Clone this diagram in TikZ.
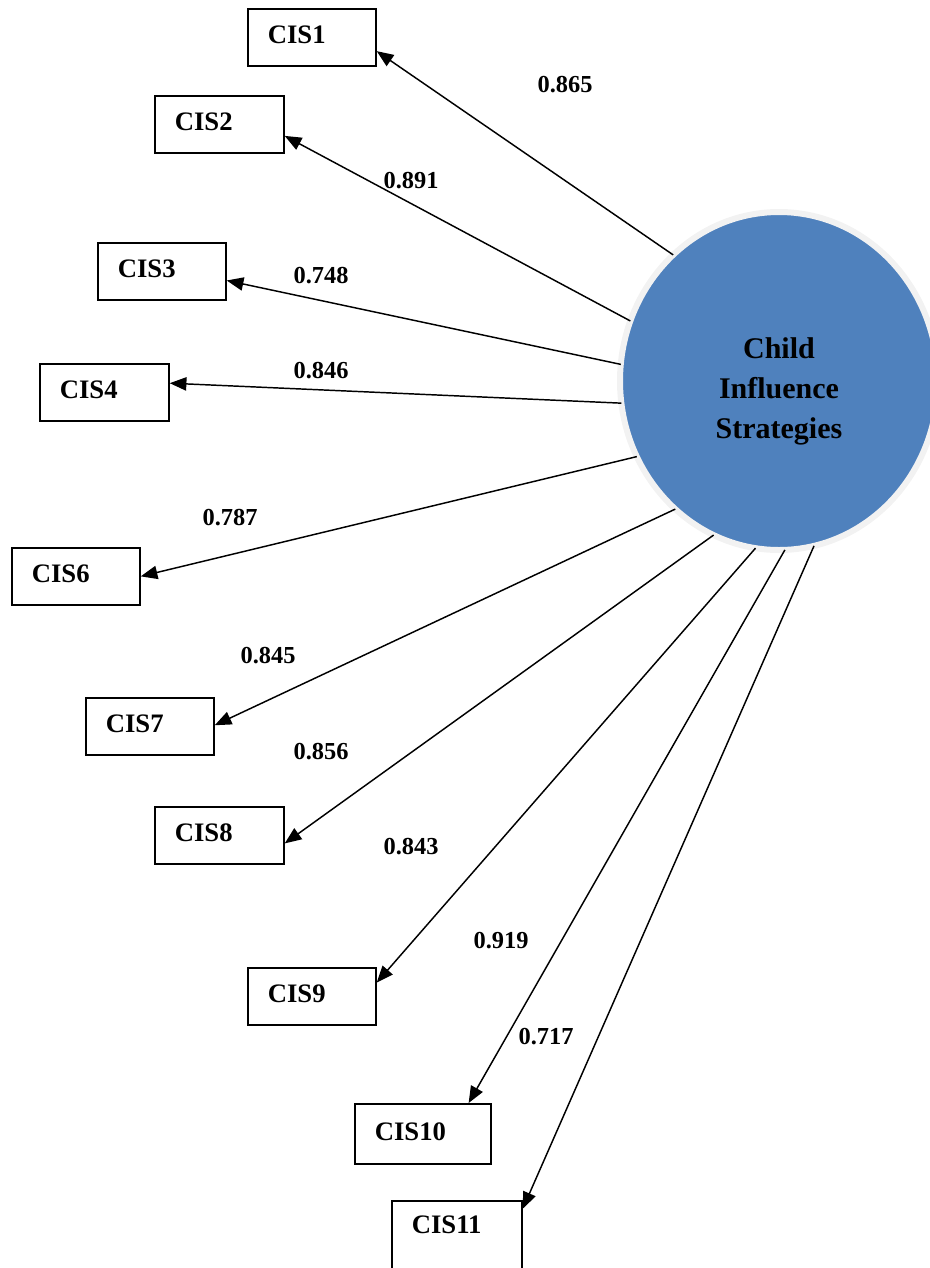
\documentclass[tikz,border=0pt]{standalone}
\usepackage{fontspec}
\setmainfont{Liberation Serif}
\usetikzlibrary{arrows.meta, shapes.geometric}
\definecolor{cisblue}{HTML}{4F81BD}
\definecolor{cisring}{HTML}{F2F2F2}

\begin{document}
\begin{tikzpicture}[x=0.75pt,y=-0.75pt,
  box/.style={draw, line width=1.3pt, anchor=north west, inner xsep=15pt, inner ysep=0pt,
    align=left, text depth=4pt, font=\fontsize{20}{24}\selectfont\bfseries},
  loading/.style={font=\fontsize{18.3}{22}\selectfont\bfseries},
  arr/.style={-{Triangle[length=12.5pt,width=10pt]}, line width=1.1pt}]
\useasboundingbox (0,0) rectangle (930,1268);

\node[ellipse, fill=cisblue, draw=cisring, line width=4.5pt, minimum width=238.5pt,
  minimum height=253.5pt, inner sep=0pt, outer sep=0pt] (lv) at (779,381) {};
\node[align=center, font=\fontsize{22.5}{30}\selectfont\bfseries] (lvtext) at (779,391)
  {Child\\Influence\\Strategies};

\foreach \n/\x/\y/\w/\h in {1/247/8/128/57, 2/154/95/129/57, 3/97/242/128/57,
  4/39/363/129/57, 6/11/547/128/57, 7/85/697/128/57, 8/154/806/129/57,
  9/247/967/128/57, 10/354/1103/136/60} {
  \pgfmathsetmacro\bw{\w*0.75-30}
  \pgfmathsetmacro\bh{\h*0.75}
  \node[box, text width=\bw pt, minimum height=\bh pt] (cis\n) at (\x,\y) {CIS\n};
}
\node[box, text width=67.5pt, minimum height=60pt, text depth=24pt] (cis11) at (391,1200) {CIS11};

\foreach \n/\a/\b in {1/130/-12, 2/158/-10, 3/174/-8, 4/-172/8, 6/-152/0, 7/-129/1,
  8/-113/-7, 9/-98/12, 10/-88/34, 11/-78/26}
  \draw[arr] (lv.\a) -- (cis\n.\b);

\foreach \n/\v/\x/\y in {1/0.865/565/85, 2/0.891/411/181, 3/0.748/321/276,
  4/0.846/321/371, 6/0.787/230/518, 7/0.845/268/656, 8/0.856/321/752,
  9/0.843/411/847, 10/0.919/501/941, 11/0.717/546/1037}
  \node[loading] (w\n) at (\x,\y) {\v};

\end{tikzpicture}
\end{document}
